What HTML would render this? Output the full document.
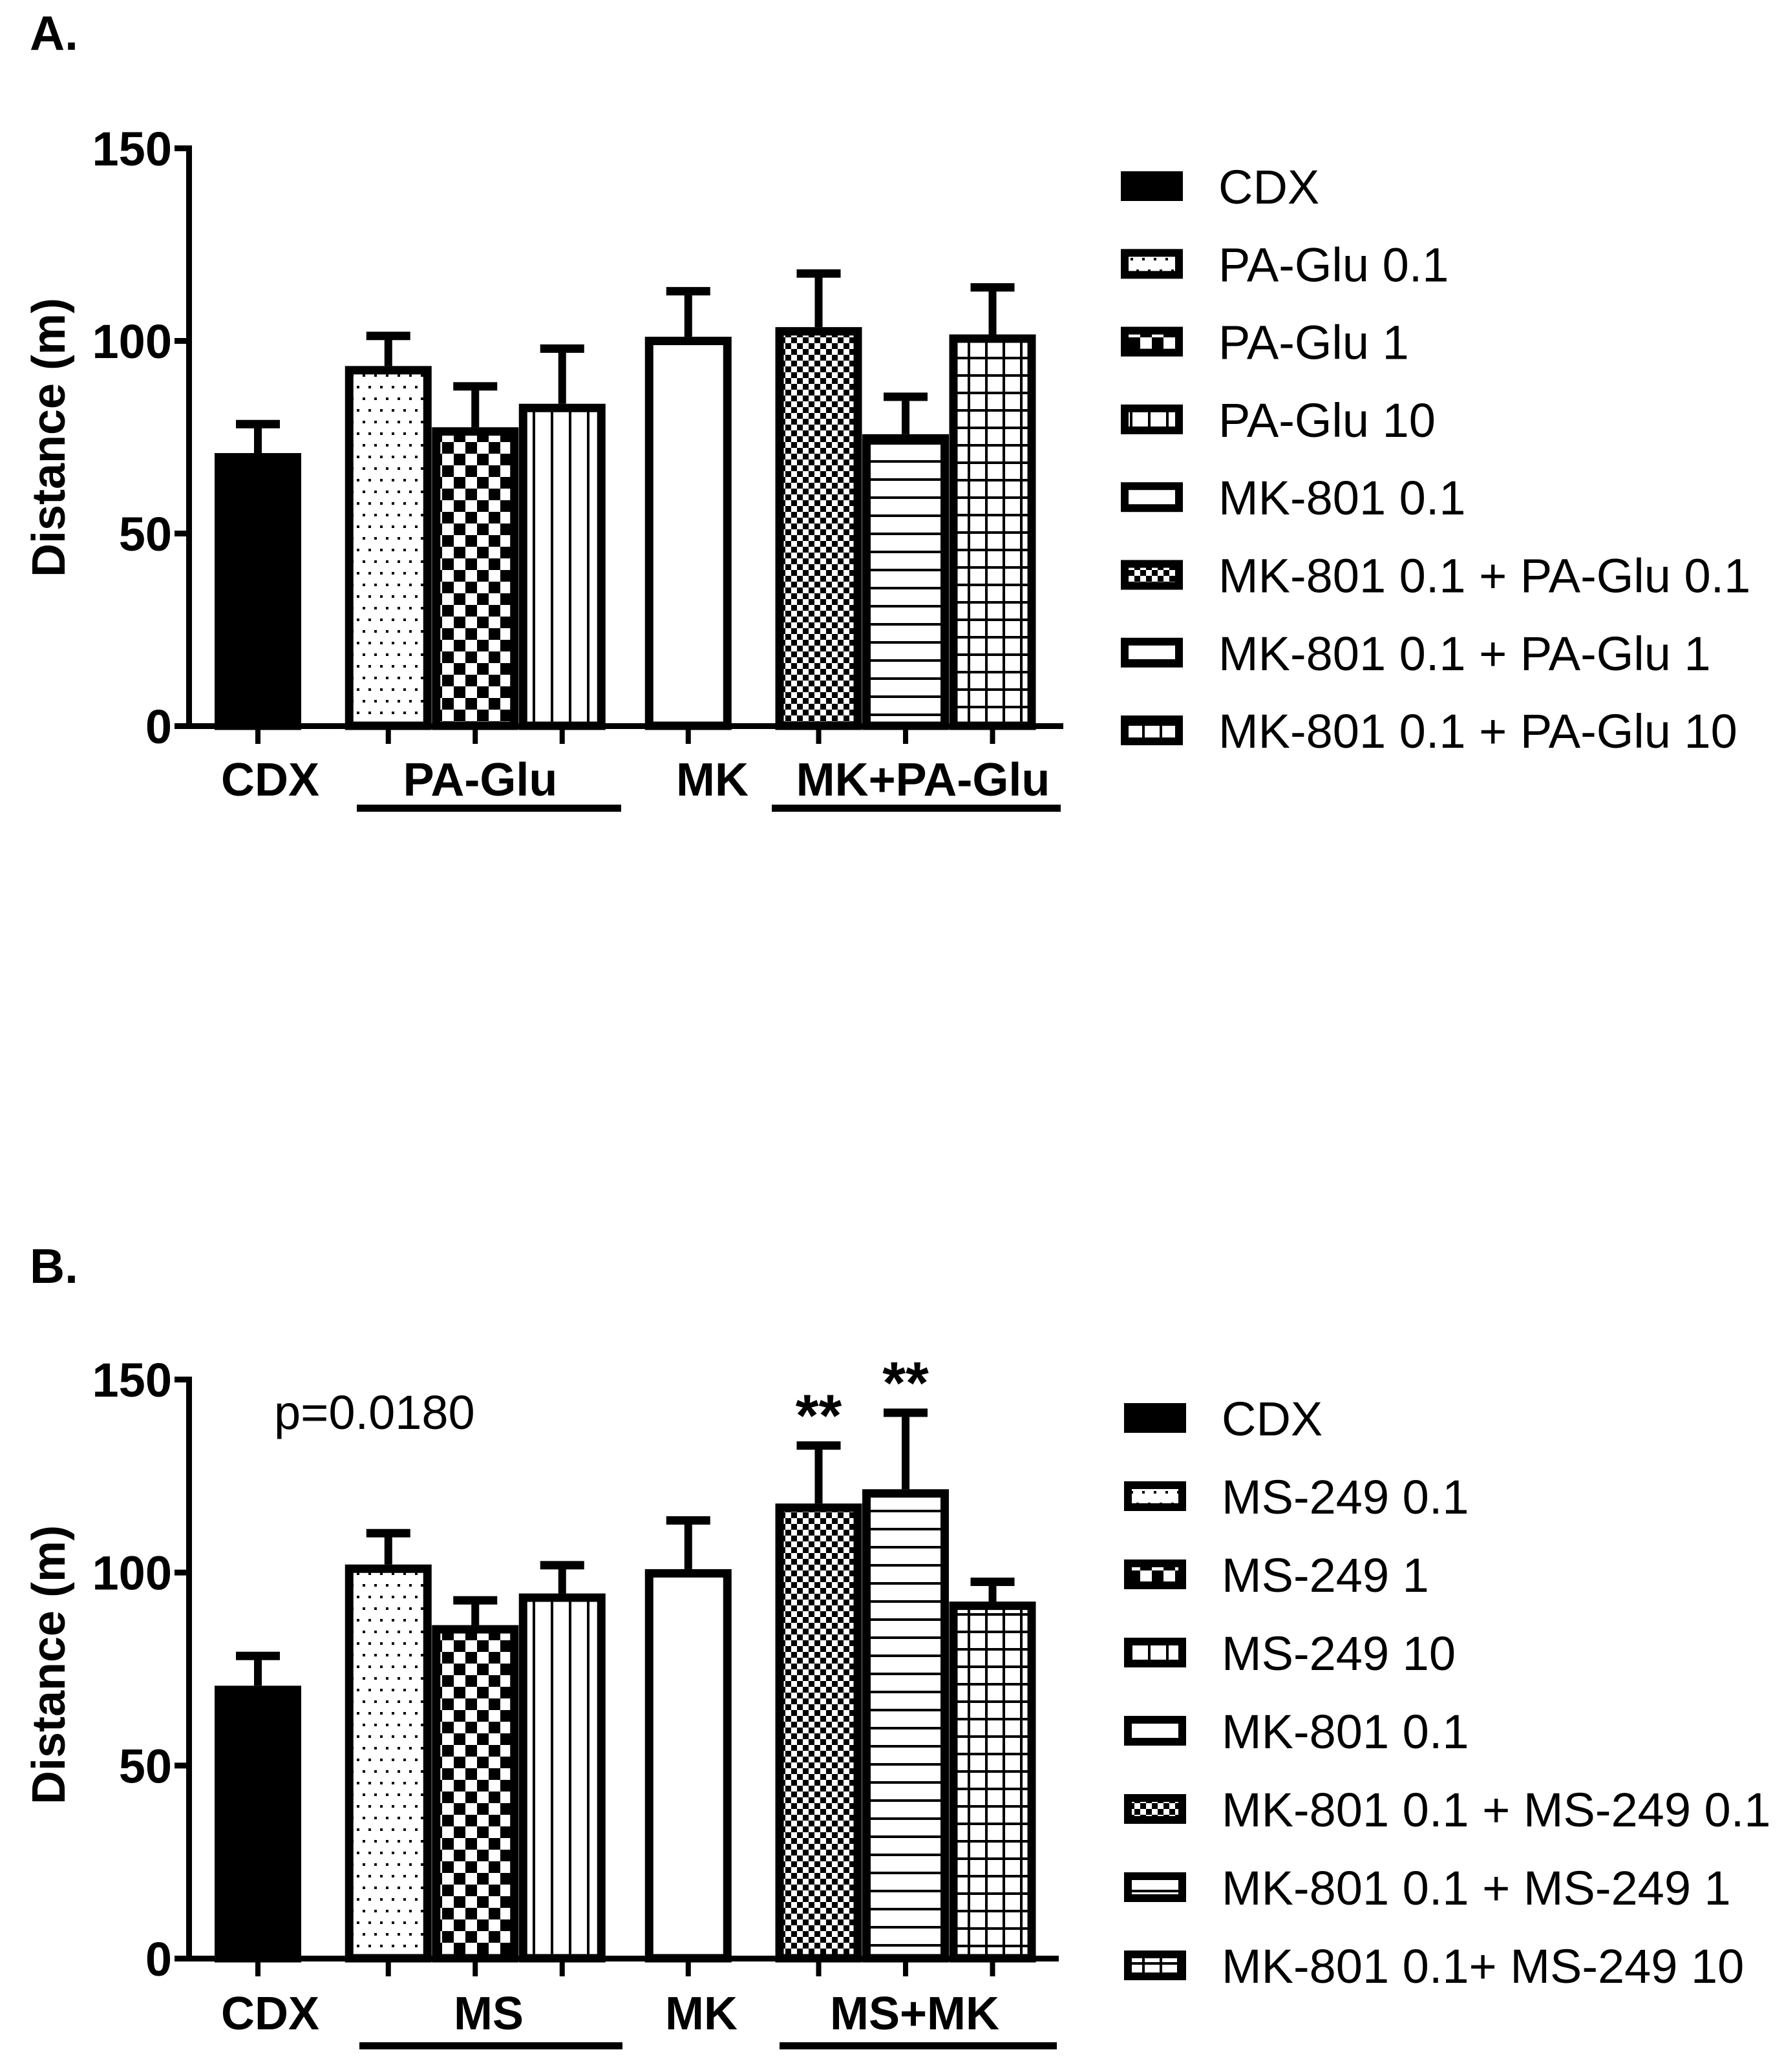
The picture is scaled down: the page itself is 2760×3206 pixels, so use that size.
<!DOCTYPE html>
<html>
<head>
<meta charset="utf-8">
<style>
  html, body { margin: 0; padding: 0; background: #ffffff; }
  svg { display: block; }
  text { font-family: "Liberation Sans", Arial, sans-serif; fill: #000; }
  .bold { font-weight: bold; }
</style>
</head>
<body>
<svg id="fig" width="2760" height="3206" viewBox="0 0 2760 3206" xmlns="http://www.w3.org/2000/svg">
  <defs>
    <pattern id="p-dots" patternUnits="userSpaceOnUse" width="18" height="36">
      <rect x="0" y="0" width="18" height="36" fill="#fff"/>
      <rect x="3" y="3" width="4" height="4" fill="#000"/>
      <rect x="12" y="21" width="4" height="4" fill="#000"/>
    </pattern>
    <pattern id="p-checker" patternUnits="userSpaceOnUse" width="36" height="36">
      <rect x="0" y="0" width="36" height="36" fill="#fff"/>
      <rect x="0" y="0" width="18" height="18" fill="#000"/>
      <rect x="18" y="18" width="18" height="18" fill="#000"/>
    </pattern>
    <pattern id="p-vlines" patternUnits="userSpaceOnUse" width="28" height="28">
      <rect x="0" y="0" width="28" height="28" fill="#fff"/>
      <rect x="12" y="0" width="4" height="28" fill="#000"/>
    </pattern>
    <pattern id="p-finechecker" patternUnits="userSpaceOnUse" width="18" height="18">
      <rect x="0" y="0" width="18" height="18" fill="#fff"/>
      <rect x="0" y="0" width="9" height="9" fill="#000"/>
      <rect x="9" y="9" width="9" height="9" fill="#000"/>
    </pattern>
    <pattern id="p-hlines" patternUnits="userSpaceOnUse" width="28" height="28">
      <rect x="0" y="0" width="28" height="28" fill="#fff"/>
      <rect x="0" y="12" width="28" height="4" fill="#000"/>
    </pattern>
    <pattern id="p-grid" patternUnits="userSpaceOnUse" width="27" height="27">
      <rect x="0" y="0" width="27" height="27" fill="#fff"/>
      <rect x="12" y="0" width="4" height="27" fill="#000"/>
      <rect x="0" y="12" width="27" height="4" fill="#000"/>
    </pattern>
  </defs>
  <g id="panelA"></g>
  <g id="panelB"></g>
</svg>
<script>
// ---- Data ----
const fillsA = ["#000", "url(#p-dots)", "url(#p-checker)", "url(#p-vlines)", "#fff", "url(#p-finechecker)", "url(#p-hlines)", "url(#p-grid)"];
const seriesA = ["CDX", "PA-Glu 0.1", "PA-Glu 1", "PA-Glu 10", "MK-801 0.1", "MK-801 0.1 + PA-Glu 0.1", "MK-801 0.1 + PA-Glu 1", "MK-801 0.1 + PA-Glu 10"];
const meansA = [70.8, 93.4, 77.5, 83.6, 101, 103.5, 75.7, 101.6];
const errA = [78.4, 101.3, 88.2, 98, 112.9, 117.5, 85.5, 113.9];
const groupsA = ["CDX", "PA-Glu", "MK", "MK+PA-Glu"];

const seriesB = ["CDX", "MS-249 0.1", "MS-249 1", "MS-249 10", "MK-801 0.1", "MK-801 0.1 + MS-249 0.1", "MK-801 0.1 + MS-249 1", "MK-801 0.1+ MS-249 10"];
const meansB = [70.6, 102, 86.3, 94.5, 100.8, 117.8, 121.5, 92.4];
const errB = [78.4, 110.2, 92.8, 101.9, 113.5, 132.9, 141.4, 97.6];
const groupsB = ["CDX", "MS", "MK", "MS+MK"];
const starsB = ["", "", "", "", "", "**", "**", ""];

const yTicks = [0, 50, 100, 150];
const slots = [0, 1.5, 2.5, 3.5, 4.95, 6.45, 7.45, 8.45];

const NS = "http://www.w3.org/2000/svg";
function mk(tag, attrs, parent) {
  const e = document.createElementNS(NS, tag);
  for (const k in attrs) e.setAttribute(k, attrs[k]);
  parent.appendChild(e);
  return e;
}

function drawPanel(g, cfg) {
  const y = v => cfg.y0 - v * cfg.pxPerUnit;
  const x = s => cfg.x0 + s * cfg.slotW;
  const bw = 134;
  const lt = mk("text", {x: 46, y: cfg.letterY, "font-size": 75, "class": "bold"}, g);
  lt.textContent = cfg.letter;
  
  
  const yt = mk("text", {x: 0, y: 0, "font-size": 72, "class": "bold", "text-anchor": "middle",
    transform: "translate(100," + cfg.titleY + ") rotate(-90)"}, g);
  yt.textContent = "Distance (m)";
  
  
  cfg.means.forEach((m, i) => {
    const cx = x(slots[i]);
    const top = y(m);
    const bg = mk("g", {}, g);
    
    
    const et = y(cfg.err[i]);
    mk("rect", {x: cx - 6, y: et, width: 12, height: top - et, fill: "#000"}, bg);
    mk("rect", {x: cx - 34, y: et - 6, width: 68, height: 13, fill: "#000"}, bg);
    mk("rect", {x: cx - bw / 2 + 6.5, y: top + 6.5, width: bw - 13, height: cfg.y0 - top - 6.5,
      fill: cfg.fills[i], stroke: "#000", "stroke-width": 13}, bg);
    const tk = mk("rect", {x: cx - 4, y: cfg.y0, width: 8, height: 28, fill: "#000"}, g);
    
    
    if (cfg.stars && cfg.stars[i]) {
      const st = mk("text", {x: cx, y: et - 14, "font-size": 92, "class": "bold", "text-anchor": "middle"}, g);
      st.textContent = cfg.stars[i];
      
      
    }
  });
  const ya = mk("rect", {x: 288, y: y(150) - 4, width: 9, height: cfg.y0 - y(150) + 8, fill: "#000"}, g);
  
  
  const xa = mk("rect", {x: 288, y: cfg.y0 - 4, width: cfg.xEnd - 288, height: 9, fill: "#000"}, g);
  
  
  yTicks.forEach(v => {
    mk("rect", {x: 270, y: y(v) - 4, width: 22, height: 9, fill: "#000"}, g);
    const t = mk("text", {x: 266, y: y(v) + 27, "font-size": 74, "class": "bold", "text-anchor": "end"}, g);
    t.textContent = v;
    
    
  });
  cfg.groups.forEach((gname, i) => {
    const t = mk("text", {x: cfg.groupX[i], y: cfg.labelY, "font-size": 72, "class": "bold", "text-anchor": "middle"}, g);
    t.textContent = gname;
    
    
  });
  cfg.underlines.forEach(u => {
    const r = mk("rect", {x: u[0], y: cfg.ulY, width: u[1] - u[0], height: 11, fill: "#000"}, g);
    
    
  });
  cfg.series.forEach((s, i) => {
    const cy = cfg.legY + i * cfg.legPitch;
    const lg = mk("g", {}, g);
    
    
    mk("rect", {x: cfg.legX + 6, y: cy - 17, width: 84, height: 34,
      fill: cfg.fills[i], stroke: "#000", "stroke-width": 12}, lg);
    const t = mk("text", {x: cfg.legX + 151, y: cy + 27, "font-size": 74}, lg);
    t.textContent = s;
  });
  if (cfg.pText) {
    const p = mk("text", {x: 424, y: 2211, "font-size": 74}, g);
    p.textContent = cfg.pText;
    
    
  }
}

drawPanel(document.getElementById("panelA"), {
  letter: "A.", letterY: 77, titleY: 677,
  y0: 1123, pxPerUnit: 5.96, x0: 399, slotW: 134.5, xEnd: 1645,
  means: meansA, err: errA, fills: fillsA, series: seriesA, groups: groupsA,
  groupX: [418, 743, 1102, 1428], labelY: 1231, ulY: 1245,
  underlines: [[552, 961], [1194, 1641]],
  legX: 1734, legY: 288, legPitch: 120.3
});
drawPanel(document.getElementById("panelB"), {
  letter: "B.", letterY: 1985, titleY: 2576,
  y0: 3030, pxPerUnit: 5.973, x0: 399, slotW: 134.5, xEnd: 1638,
  means: meansB, err: errB, fills: fillsA, series: seriesB, groups: groupsB, stars: starsB,
  groupX: [418, 756, 1085, 1415], labelY: 3140, ulY: 3160,
  underlines: [[556, 963], [1206, 1635]],
  legX: 1739, legY: 2194, legPitch: 121, pText: "p=0.0180"
});
</script>
</body>
</html>
